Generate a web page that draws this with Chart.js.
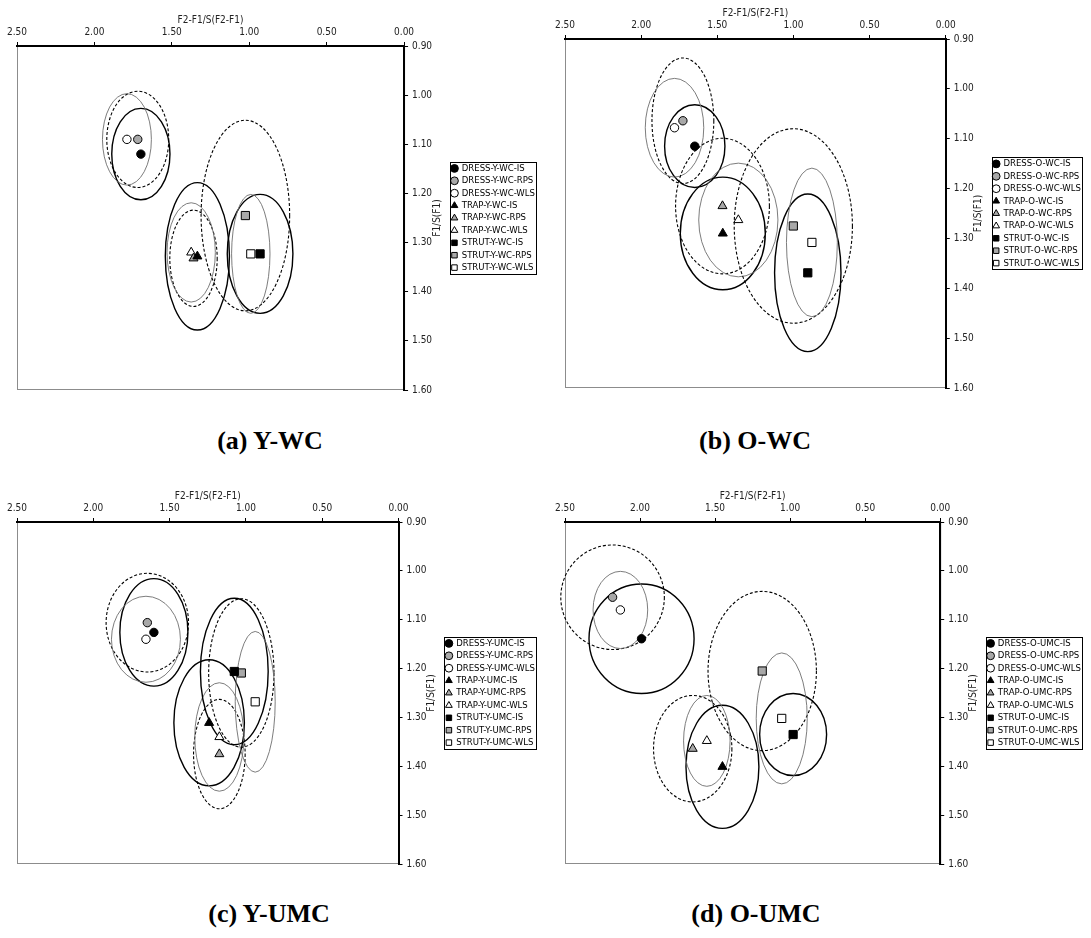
<!DOCTYPE html>
<html>
<head>
<meta charset="utf-8">
<script src="https://cdn.jsdelivr.net/npm/chart.js@4.4.0/dist/chart.umd.min.js"></script>
<style>
  body { margin: 0; background: #fff; width: 1091px; height: 938px; position: relative; overflow: hidden; }
  .panel { position: absolute; }
  .panel canvas { display: block; }
  .caption { position: absolute; font: bold 26px "Liberation Serif", "Times New Roman", serif; color: #000;
             transform: translate(-50%, -50%); white-space: nowrap; }
</style>
</head>
<body>
<div class="panel" style="left:0;top:0"><canvas id="c0" width="545" height="400"></canvas></div>
<div class="panel" style="left:548px;top:0"><canvas id="c1" width="543" height="400"></canvas></div>
<div class="panel" style="left:0;top:480px"><canvas id="c2" width="545" height="400"></canvas></div>
<div class="panel" style="left:548px;top:480px"><canvas id="c3" width="543" height="400"></canvas></div>
<div class="caption" id="t0" style="left:270px;top:441px"></div>
<div class="caption" id="t1" style="left:755px;top:441px"></div>
<div class="caption" id="t2" style="left:269px;top:914px"></div>
<div class="caption" id="t3" style="left:756px;top:914px"></div>
<script>
const groups = ['DRESS', 'TRAP', 'STRUT'];
const methods = ['IS', 'RPS', 'WLS'];
const conditions = ['Y-WC', 'O-WC', 'Y-UMC', 'O-UMC'];
const captions = ['(a) Y-WC', '(b) O-WC', '(c) Y-UMC', '(d) O-UMC'];
const xTitle = 'F2-F1/S(F2-F1)';
const yTitle = 'F1/S(F1)';

// order in every array: DRESS IS/RPS/WLS, TRAP IS/RPS/WLS, STRUT IS/RPS/WLS
const ywcX  = [1.70, 1.72, 1.79, 1.335, 1.36, 1.375, 0.93, 1.025, 0.99];
const ywcY  = [1.12, 1.09, 1.09, 1.328, 1.332, 1.32, 1.323, 1.245, 1.323];
const ywcRx = [0.188, 0.200, 0.158, 0.207, 0.153, 0.156, 0.212, 0.286, 0.124];
const ywcRy = [0.093, 0.098, 0.093, 0.150, 0.098, 0.101, 0.121, 0.194, 0.121];

const owcX  = [1.648, 1.726, 1.781, 1.464, 1.466, 1.362, 0.906, 1.001, 0.879];
const owcY  = [1.115, 1.064, 1.078, 1.29, 1.235, 1.263, 1.369, 1.275, 1.308];
const owcRx = [0.198, 0.203, 0.192, 0.279, 0.308, 0.260, 0.218, 0.388, 0.167];
const owcRy = [0.083, 0.126, 0.099, 0.113, 0.136, 0.114, 0.158, 0.195, 0.149];

const yumcX  = [1.603, 1.646, 1.655, 1.241, 1.174, 1.174, 1.076, 1.03, 0.939];
const yumcY  = [1.126, 1.106, 1.14, 1.311, 1.375, 1.34, 1.206, 1.209, 1.268];
const yumcRx = [0.223, 0.270, 0.226, 0.231, 0.169, 0.161, 0.222, 0.214, 0.131];
const yumcRy = [0.110, 0.101, 0.088, 0.129, 0.112, 0.111, 0.150, 0.152, 0.144];

const oumcX  = [1.99, 2.183, 2.131, 1.451, 1.649, 1.555, 0.98, 1.186, 1.056];
const oumcY  = [1.139, 1.054, 1.08, 1.401, 1.364, 1.348, 1.335, 1.205, 1.302];
const oumcRx = [0.350, 0.345, 0.182, 0.243, 0.261, 0.155, 0.223, 0.361, 0.170];
const oumcRy = [0.112, 0.107, 0.079, 0.126, 0.109, 0.093, 0.084, 0.163, 0.134];

const panels = [
  {x: ywcX, y: ywcY, rx: ywcRx, ry: ywcRy},
  {x: owcX, y: owcY, rx: owcRx, ry: owcRy},
  {x: yumcX, y: yumcY, rx: yumcRx, ry: yumcRy},
  {x: oumcX, y: oumcY, rx: oumcRx, ry: oumcRy}
];

const paddings = [
  {left: 17, top: 12, right: 0, bottom: 10},
  {left: 17, top: 5, right: 0, bottom: 12},
  {left: 17, top: 8, right: 0, bottom: 16},
  {left: 17, top: 8, right: 0, bottom: 16}
];

const shapes = ['circle', 'triangle', 'rect'];
const radii = [4.2, 5.2, 5.8];
const fills = ['#000000', '#a8a8a8', '#ffffff'];
const rings = [
  {color: '#000', width: 1.4, dash: []},
  {color: '#000', width: 1.1, dash: [3, 2]},
  {color: '#6e6e6e', width: 0.9, dash: []}
];
const axisFont = {family: '"Liberation Sans Narrow", "DejaVu Sans Condensed", Arial, sans-serif', size: 10};
const legendFont = {family: axisFont.family, size: 9.5};

// plot frame: gray on the left/bottom, the axes draw black top/right
const framePlugin = {
  id: 'frame',
  beforeDraw(chart) {
    const {ctx, chartArea: a} = chart;
    ctx.save();
    ctx.strokeStyle = '#8c8c8c';
    ctx.lineWidth = 1;
    ctx.strokeRect(a.left + 0.5, a.top, a.right - a.left, a.bottom - a.top - 0.5);
    ctx.restore();
  }
};

// spread ellipses around each mean
const ellipsePlugin = {
  id: 'ellipses',
  beforeDatasetsDraw(chart) {
    const {ctx, scales: {x, y}} = chart;
    chart.data.datasets.forEach((ds, i) => {
      const p = ds.data[0];
      const cx = x.getPixelForValue(p.x);
      const cy = y.getPixelForValue(p.y);
      const rx = Math.abs(x.getPixelForValue(p.x + ds.spreadX) - cx);
      const ry = Math.abs(y.getPixelForValue(p.y + ds.spreadY) - cy);
      const st = rings[i % 3];
      ctx.save();
      ctx.beginPath();
      ctx.ellipse(cx, cy, rx, ry, 0, 0, Math.PI * 2);
      ctx.strokeStyle = st.color;
      ctx.lineWidth = st.width;
      ctx.setLineDash(st.dash);
      ctx.stroke();
      ctx.restore();
    });
  }
};

// rotated y title and a box around the legend
const extrasPlugin = {
  id: 'extras',
  afterDraw(chart) {
    const {ctx, chartArea: a} = chart;
    ctx.save();
    ctx.font = '10px ' + axisFont.family;
    ctx.fillStyle = '#222';
    ctx.textAlign = 'center';
    ctx.textBaseline = 'middle';
    ctx.translate(a.right + 33, (a.top + a.bottom) / 2);
    ctx.rotate(-Math.PI / 2);
    ctx.fillText(yTitle, 0, 0);
    ctx.restore();

    const boxes = chart.legend.legendHitBoxes;
    if (!boxes.length) return;
    let l = Infinity, t = Infinity, r = -Infinity, b = -Infinity;
    boxes.forEach(h => {
      l = Math.min(l, h.left); t = Math.min(t, h.top);
      r = Math.max(r, h.left + h.width); b = Math.max(b, h.top + h.height);
    });
    ctx.save();
    ctx.strokeStyle = '#000';
    ctx.lineWidth = 1;
    ctx.strokeRect(Math.round(l - 2) + 0.5, Math.round(t - 2) + 0.5, Math.round(r - l + 3), Math.round(b - t + 3));
    ctx.restore();
  }
};

panels.forEach((pd, k) => {
  const datasets = [];
  groups.forEach((g, gi) => {
    methods.forEach((m, mi) => {
      const i = gi * 3 + mi;
      datasets.push({
        label: g + '-' + conditions[k] + '-' + m,
        data: [{x: pd.x[i], y: pd.y[i]}],
        spreadX: pd.rx[i],
        spreadY: pd.ry[i],
        pointStyle: shapes[gi],
        pointRadius: radii[gi],
        backgroundColor: fills[mi],
        borderColor: '#000',
        borderWidth: 1,
        clip: false
      });
    });
  });

  new Chart(document.getElementById('c' + k), {
    type: 'scatter',
    data: {datasets},
    options: {
      responsive: false,
      animation: false,
      events: [],
      layout: {padding: paddings[k]},
      scales: {
        x: {
          type: 'linear', position: 'top', reverse: true, min: 0, max: 2.5,
          ticks: {stepSize: 0.5, padding: 4, color: '#222', font: axisFont, maxRotation: 0,
                  callback: v => v.toFixed(2)},
          grid: {drawOnChartArea: false, tickLength: 4, color: '#000'},
          border: {color: '#000', width: 2},
          title: {display: true, text: xTitle, color: '#222', font: axisFont, padding: {top: 2, bottom: 2}},
          afterFit: s => { s.height = 34; }
        },
        y: {
          type: 'linear', position: 'right', reverse: true, min: 0.9, max: 1.6,
          ticks: {stepSize: 0.1, padding: 4, color: '#222', font: axisFont,
                  callback: v => v.toFixed(2)},
          grid: {drawOnChartArea: false, tickLength: 4, color: '#000'},
          border: {color: '#000', width: 2},
          afterFit: s => { s.width = 45; }
        }
      },
      plugins: {
        legend: {
          position: 'right', fullSize: false,
          labels: {usePointStyle: true, boxWidth: 5, boxHeight: 5.5, padding: 2.9,
                   color: '#000', font: legendFont}
        },
        tooltip: {enabled: false}
      }
    },
    plugins: [framePlugin, ellipsePlugin, extrasPlugin]
  });

  document.getElementById('t' + k).textContent = captions[k];
});
</script>
</body>
</html>
